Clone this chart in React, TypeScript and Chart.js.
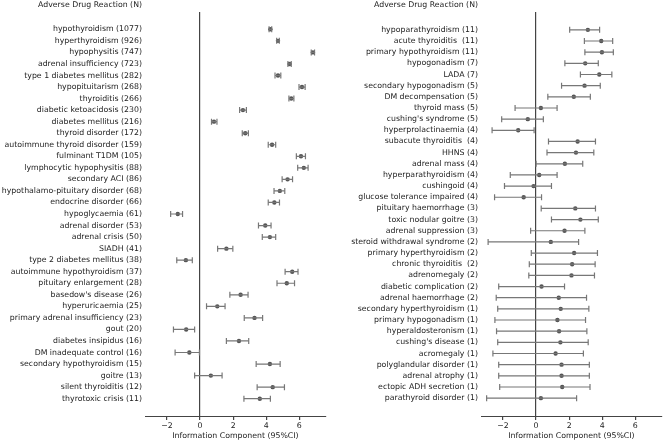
import React, { useEffect, useRef } from 'react';
import { Chart, registerables } from 'chart.js';

Chart.register(...registerables);

const leftLabels = [
  'hypothyroidism (1077)', 'hyperthyroidism (926)', 'hypophysitis (747)', 'adrenal insufficiency (723)',
  'type 1 diabetes mellitus (282)', 'hypopituitarism (268)', 'thyroiditis (266)', 'diabetic ketoacidosis (230)',
  'diabetes mellitus (216)', 'thyroid disorder (172)', 'autoimmune thyroid disorder (159)', 'fulminant T1DM (105)',
  'lymphocytic hypophysitis (88)', 'secondary ACI (86)', 'hypothalamo-pituitary disorder (68)', 'endocrine disorder (66)',
  'hypoglycaemia (61)', 'adrenal disorder (53)', 'adrenal crisis (50)', 'SIADH (41)', 'type 2 diabetes mellitus (38)',
  'autoimmune hypothyroidism (37)', 'pituitary enlargement (28)', "basedow's disease (26)", 'hyperuricaemia (25)',
  'primary adrenal insufficiency (23)', 'gout (20)', 'diabetes insipidus (16)', 'DM inadequate control (16)',
  'secondary hypothyroidism (15)', 'goitre (13)', 'silent thyroiditis (12)', 'thyrotoxic crisis (11)',
];
const leftIC = [4.25, 4.71, 6.82, 5.41, 4.71, 6.16, 5.51, 2.59, 0.84, 2.73, 4.35, 6.10, 6.27, 5.29, 4.82, 4.49,
  -1.35, 3.94, 4.22, 1.59, -0.86, 5.57, 5.24, 2.45, 1.04, 3.29, -0.84, 2.35, -0.65, 4.22, 0.65, 4.39, 3.61];
const leftLow = [4.17, 4.63, 6.72, 5.31, 4.53, 5.98, 5.37, 2.39, 0.69, 2.55, 4.12, 5.82, 5.90, 4.96, 4.47, 4.12,
  -1.78, 3.53, 3.76, 1.06, -1.41, 5.14, 4.65, 1.80, 0.39, 2.67, -1.61, 1.59, -1.51, 3.39, -0.33, 3.45, 2.65];
const leftHigh = [4.33, 4.79, 6.92, 5.51, 4.88, 6.35, 5.67, 2.80, 1.02, 2.92, 4.57, 6.37, 6.53, 5.59, 5.12, 4.80,
  -1.06, 4.29, 4.57, 1.98, -0.47, 5.92, 5.71, 2.90, 1.51, 3.78, -0.33, 2.94, -0.04, 4.84, 1.33, 5.10, 4.25];

const rightLabels = [
  'hypoparathyroidism (11)', 'acute thyroiditis  (11)', 'primary hypothyroidism (11)', 'hypogonadism (7)', 'LADA (7)',
  'secondary hypogonadism (5)', 'DM decompensation (5)', 'thyroid mass (5)', "cushing's syndrome (5)",
  'hyperprolactinaemia (4)', 'subacute thyroiditis  (4)', 'HHNS (4)', 'adrenal mass (4)', 'hyperparathyroidism (4)',
  'cushingoid (4)', 'glucose tolerance impaired (4)', 'pituitary haemorrhage (3)', 'toxic nodular goitre (3)',
  'adrenal suppression (3)', 'steroid withdrawal syndrome (2)', 'primary hyperthyroidism (2)', 'chronic thyroiditis  (2)',
  'adrenomegaly (2)', 'diabetic complication (2)', 'adrenal haemorrhage (2)', 'secondary hyperthyroidism (1)',
  'primary hypogonadism (1)', 'hyperaldosteronism (1)', "cushing's disease (1)", 'acromegaly (1)',
  'polyglandular disorder (1)', 'adrenal atrophy (1)', 'ectopic ADH secretion (1)', 'parathyroid disorder (1)',
];
const rightIC = [3.13, 3.94, 3.98, 2.97, 3.82, 2.93, 2.28, 0.29, -0.50, -1.08, 2.51, 2.41, 1.74, 0.19, -0.15, -0.75,
  2.37, 2.68, 1.72, 0.89, 2.30, 2.18, 2.14, 0.33, 1.37, 1.49, 1.29, 1.39, 1.47, 1.18, 1.54, 1.54, 1.58, 0.29];
const rightLow = [2.03, 2.92, 2.95, 1.74, 2.68, 1.54, 0.71, -1.27, -2.08, -2.66, 0.75, 0.66, 0.0, -1.56, -1.91, -2.51,
  0.31, 0.93, -0.33, -2.90, -0.29, -0.41, -0.44, -2.26, -2.41, -2.32, -2.49, -2.39, -2.32, -2.61, -2.26, -2.26, -2.20, -2.99];
const rightHigh = [3.84, 4.63, 4.67, 3.76, 4.58, 3.88, 3.28, 1.27, 0.44, -0.12, 3.59, 3.49, 2.82, 1.27, 0.93, 0.33,
  3.59, 3.76, 2.95, 2.57, 3.71, 3.57, 3.53, 1.72, 3.05, 3.19, 2.99, 3.07, 3.15, 2.86, 3.22, 3.22, 3.26, 2.45];

const xTicks = [-2, 0, 2, 4, 6];
const xMin = -3.33;
const xMax = 7.6;
const headerText = 'Adverse Drug Reaction (N)';
const xTitle = 'Information Component (95%CI)';

const FONT = 'DejaVu Sans';
const FSIZE = 7.8;
const TEXT = '#222';
const AXIS = '#444';
const BAR = '#777';
const DOT = '#555';

const headerPlugin = {
  id: 'header',
  afterDraw(chart: any) {
    const ctx = chart.ctx;
    const y = chart.scales.y;
    ctx.save();
    ctx.font = `${FSIZE}px "${FONT}"`;
    ctx.fillStyle = TEXT;
    ctx.textAlign = 'right';
    ctx.textBaseline = 'middle';
    ctx.fillText(headerText, y.right - 3, 4.5);
    ctx.restore();
  },
};

function buildConfig(labels: string[], ic: number[], lo: number[], hi: number[], yMin: number, yMax: number, yWidth: number): any {
  const whisker: any[] = [];
  labels.forEach((_, i) => {
    whisker.push({ x: lo[i], y: i }, { x: hi[i], y: i }, { x: null, y: null });
  });
  const caps: any[] = [];
  labels.forEach((_, i) => {
    caps.push({ x: lo[i], y: i }, { x: hi[i], y: i });
  });
  const pts = labels.map((_, i) => ({ x: ic[i], y: i }));
  const font = { family: FONT, size: FSIZE };
  return {
    type: 'scatter',
    data: {
      datasets: [
        { data: whisker, showLine: true, spanGaps: false, borderColor: BAR, borderWidth: 1.2, pointRadius: 0 },
        { data: caps, showLine: false, pointStyle: 'line', pointRotation: 90, pointRadius: 3,
          pointBorderColor: BAR, pointBorderWidth: 1.2, pointBackgroundColor: BAR },
        { data: pts, showLine: false, pointStyle: 'circle', pointRadius: 2.2,
          pointBackgroundColor: DOT, pointBorderColor: DOT, pointBorderWidth: 0 },
      ],
    },
    options: {
      responsive: false,
      animation: false,
      layout: { padding: { top: 12, left: 0, right: 0, bottom: 0 } },
      plugins: { legend: { display: false }, tooltip: { enabled: false } },
      scales: {
        x: {
          type: 'linear',
          position: 'bottom',
          min: xMin,
          max: xMax,
          afterBuildTicks: (s: any) => { s.ticks = xTicks.map((v) => ({ value: v })); },
          afterFit: (s: any) => { s.height = 25; },
          ticks: {
            font, color: TEXT, padding: 1, maxRotation: 0,
            callback: (v: any) => (v < 0 ? '\u2212' + Math.abs(v) : String(v)),
          },
          grid: {
            drawOnChartArea: true,
            color: (c: any) => (c.tick && c.tick.value === 0 ? AXIS : 'rgba(0,0,0,0)'),
            lineWidth: 1.2,
            tickLength: 4,
            tickColor: AXIS,
          },
          border: { display: true, color: AXIS, width: 1 },
          title: { display: true, text: xTitle, font, color: TEXT, padding: { top: 0, bottom: 0 } },
        },
        y: {
          type: 'linear',
          reverse: true,
          min: yMin,
          max: yMax,
          afterBuildTicks: (s: any) => { s.ticks = labels.map((_, i) => ({ value: i })); },
          afterFit: (s: any) => { s.width = yWidth; },
          ticks: { font, color: TEXT, padding: 3, autoSkip: false, callback: (v: any) => labels[v] },
          grid: { display: false, drawTicks: false },
          border: { display: false },
        },
      },
    },
    plugins: [headerPlugin],
  };
}

function Panel({ cfg, left, width }: { cfg: any; left: number; width: number }) {
  const ref = useRef<HTMLCanvasElement | null>(null);
  useEffect(() => {
    if (!ref.current) return;
    const chart = new Chart(ref.current, cfg);
    return () => chart.destroy();
  }, []);
  return (
    <canvas ref={ref} width={width} height={441}
      style={{ position: 'absolute', left, top: 0, width, height: 441 }} />
  );
}

export default function App() {
  const leftCfg = buildConfig(leftLabels, leftIC, leftLow, leftHigh, -1.5, 33.5, 145);
  const rightCfg = buildConfig(rightLabels, rightIC, rightLow, rightHigh, -1.6, 34.6, 146);
  return (
    <div style={{ position: 'fixed', left: 0, top: 0, width: 667, height: 441, background: '#fff', overflow: 'hidden' }}>
      <Panel cfg={leftCfg} left={0} width={331} />
      <Panel cfg={rightCfg} left={335} width={332} />
    </div>
  );
}
